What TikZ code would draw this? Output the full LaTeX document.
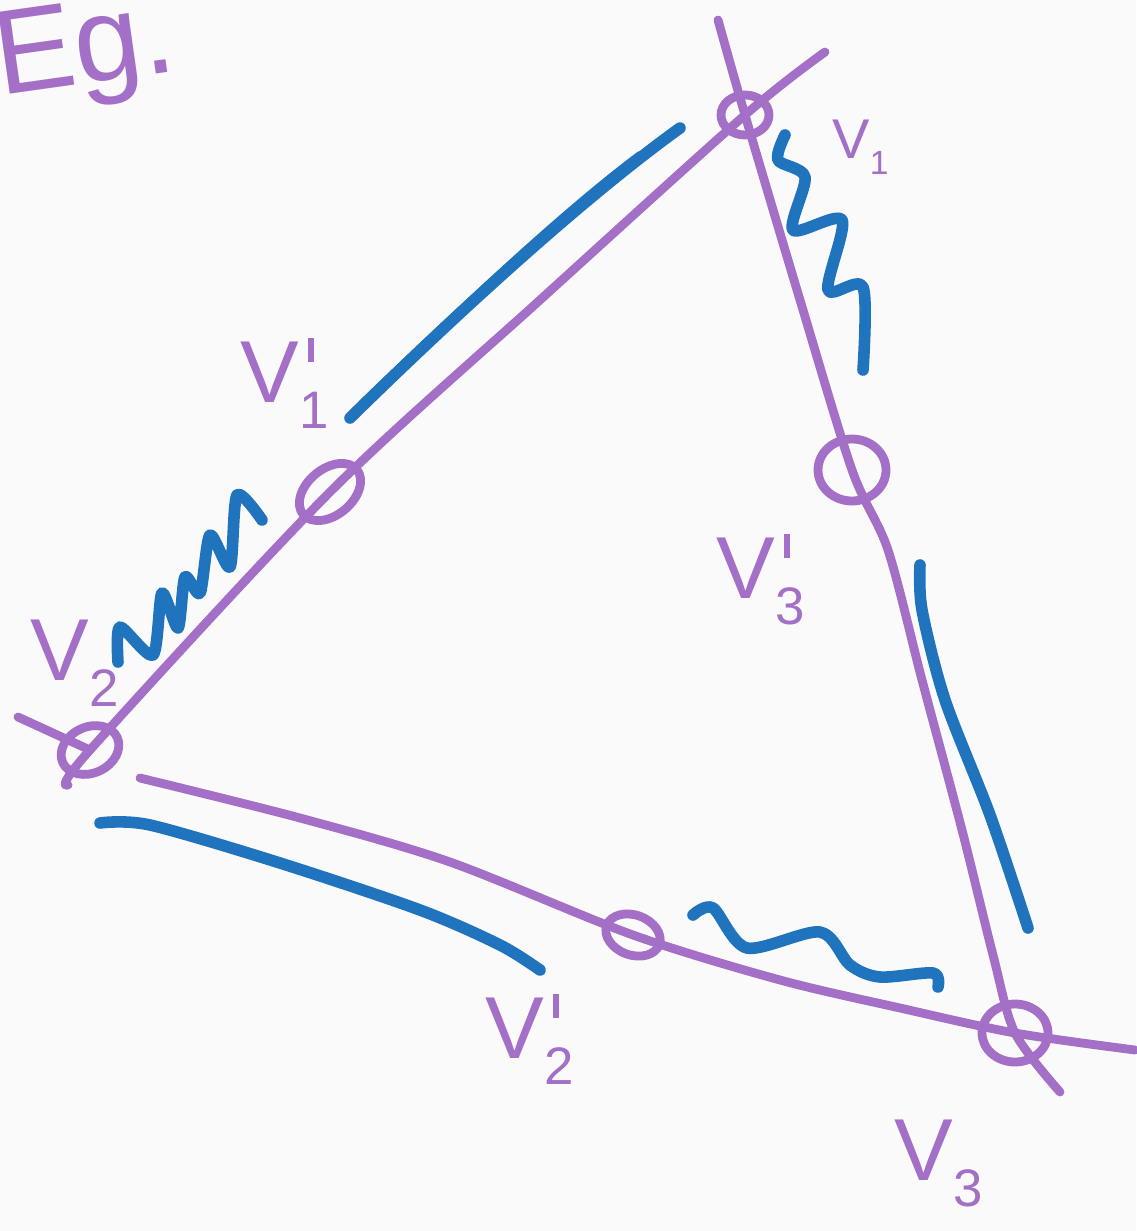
\documentclass[tikz,border=0pt]{standalone}
\usepackage{fontspec}
\setmainfont{Liberation Sans}
\definecolor{vpurple}{HTML}{A46FC6}
\definecolor{vblue}{HTML}{1F74BD}
\definecolor{paper}{HTML}{FAFAFA}
\newcommand{\vprime}{\rule{0.07em}{0.28em}}
\newcommand{\vlab}[2]{V\rlap{\kern0.1em\raisebox{0.45em}{#2}}\raisebox{-0.3em}{\scalebox{0.6}{#1}}}
\begin{document}
\begin{tikzpicture}[x=0.5pt,y=-0.5pt,
  pur/.style={draw=vpurple,line width=4.4pt,line cap=round,line join=round},
  blu/.style={draw=vblue,line width=5.8pt,line cap=round,line join=round},
  lab/.style={text=vpurple,font=\fontsize{44}{48}\selectfont,inner sep=0pt,anchor=base west}]
\useasboundingbox[fill=paper] (0,0) rectangle (1136,1231);
% vertices
\coordinate (v1) at (745,115);
\coordinate (v1p) at (330,492);
\coordinate (v2) at (90,750);
\coordinate (v3p) at (852,470);
\coordinate (v2p) at (633,935);
\coordinate (v3) at (1015,1033);
\coordinate (tA) at (825,52);
\coordinate (tB) at (718,20);
\coordinate (tC) at (68,785);
\coordinate (tD) at (18,717);
\coordinate (tE) at (1060,1092);
\coordinate (tF) at (1135,1050);
\coordinate (tG) at (140,778);
% edges
\draw[pur] plot[smooth,tension=0.5] coordinates {(tA) (v1) (540,300) (v1p) (v2) (tC)};
\draw[pur] (tD) -- (v2);
\draw[pur] plot[smooth,tension=0.5] coordinates {(tB) (v1) (800,300) (v3p) (888,550) (922,680) (962,830) (993,955) (v3) (tE)};
\draw[pur] plot[smooth,tension=0.5] coordinates {(tG) (300,818) (450,862) (v2p) (780,980) (900,1008) (v3) (tF)};
% vertex circles
\draw[pur,rotate around={40:(v1p)}] (v1p) ellipse [x radius=35,y radius=23];
\draw[pur] (v1) ellipse [x radius=24,y radius=20];
\draw[pur] (v3p) ellipse [x radius=34,y radius=31];
\draw[pur,rotate around={-20:(v2p)}] (v2p) ellipse [x radius=28,y radius=20];
\draw[pur] (v3) ellipse [x radius=33,y radius=29];
\draw[pur,rotate around={25:(v2)}] (v2) ellipse [x radius=30,y radius=23];
% blue strokes
\draw[blu] (350,418) .. controls (450,320) and (580,200) .. (680,128);
\draw[blu,line width=4pt] (362,404) .. controls (460,310) and (560,215) .. (640,155);
\draw[blu] plot[smooth,tension=0.45] coordinates {(118,662) (120,627) (153,655) (162,593) (178,628) (185,577) (200,593) (210,535) (230,567) (237,495) (262,520)};
\draw[blu] plot[smooth,tension=0.5] coordinates {(785,135) (778,160) (805,177) (793,230) (842,220) (828,290) (863,287) (863,370)};
\draw[blu] plot[smooth,tension=0.5] coordinates {(693,915) (713,908) (747,948) (820,932) (850,965) (880,977) (933,973) (938,987)};
\draw[blu] plot[smooth,tension=0.5] coordinates {(920,565) (922,610) (945,700) (990,815) (1028,928)};
\draw[blu] plot[smooth,tension=0.5] coordinates {(100,823) (150,825) (280,863) (420,910) (500,945) (540,970)};
% labels
\node[lab] (l1p) at (240,402) {\vlab{1}{\vprime}};
\node[lab,font=\fontsize{28}{30}\selectfont] (l1) at (832,158) {\vlab{1}{}};
\node[lab] (l3p) at (716,598) {\vlab{3}{\vprime}};
\node[lab] (l2) at (30,680) {\vlab{2}{}};
\node[lab] (l2p) at (485,1058) {\vlab{2}{\vprime}};
\node[lab] (l3) at (894,1180) {\vlab{3}{}};
\node[lab,font=\fontsize{60}{60}\selectfont,rotate=8] (eg) at (0,96) {Eg.};
\end{tikzpicture}
\end{document}
